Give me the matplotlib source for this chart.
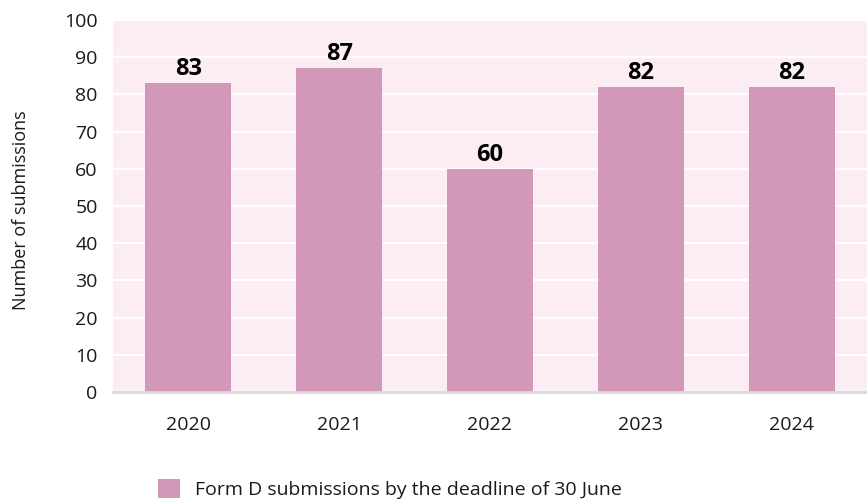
import matplotlib
matplotlib.use("Agg")
import matplotlib.pyplot as plt
from matplotlib.patches import Patch

years = ["2020", "2021", "2022", "2023", "2024"]
submissions = [83, 87, 60, 82, 82]
y_ticks = [0, 10, 20, 30, 40, 50, 60, 70, 80, 90, 100]
legend_label = "Form D submissions by the deadline of 30 June"
y_label = "Number of submissions"

BAR = "#d398b9"
BG = "#fcedf5"
TEXT = "#1a1a1a"

plt.rcParams["font.family"] = ["Open Sans", "DejaVu Sans"]

W, H = 867, 499
fig = plt.figure(figsize=(W / 100, H / 100), dpi=100)
ax = fig.add_axes([113 / W, (H - 392) / H, 754 / W, 372 / H])
ax.set_facecolor(BG)

x = list(range(len(years)))
ax.bar(x, submissions, width=0.57, color=BAR, zorder=3)

for xi, v in zip(x, submissions):
    ax.annotate(str(v), (xi, v), xytext=(0, 1.5), textcoords="offset points",
                ha="center", va="bottom", fontsize=17, fontweight="bold",
                color="black")

ax.set_xlim(-0.5, len(years) - 0.5)
ax.set_ylim(0, 100)
ax.set_yticks(y_ticks)
ax.set_xticks(x)
ax.set_xticklabels(years)
ax.tick_params(axis="y", length=0, pad=11, labelsize=14, labelcolor=TEXT)
ax.tick_params(axis="x", length=0, pad=17, labelsize=14, labelcolor=TEXT)

ax.grid(axis="y", color="white", linewidth=1.6, zorder=1)
ax.set_axisbelow(True)
for side in ("top", "right", "left"):
    ax.spines[side].set_visible(False)
ax.spines["bottom"].set_color("#d9d9d9")
ax.spines["bottom"].set_linewidth(2)
ax.spines["bottom"].set_zorder(4)

fig.text(21 / W, 1 - 210 / H, y_label, rotation=90, ha="center", va="center",
         fontsize=13, color=TEXT)

fig.legend(handles=[Patch(facecolor=BAR, edgecolor="none", label=legend_label)],
           loc="lower left", bbox_to_anchor=(158 / W, 0 / H), frameon=False,
           fontsize=14, handlelength=1.13, handleheight=1.13, handletextpad=0.75,
           borderpad=0, borderaxespad=0, labelcolor=TEXT)

fig.savefig("out.png", dpi=100, facecolor="white")
